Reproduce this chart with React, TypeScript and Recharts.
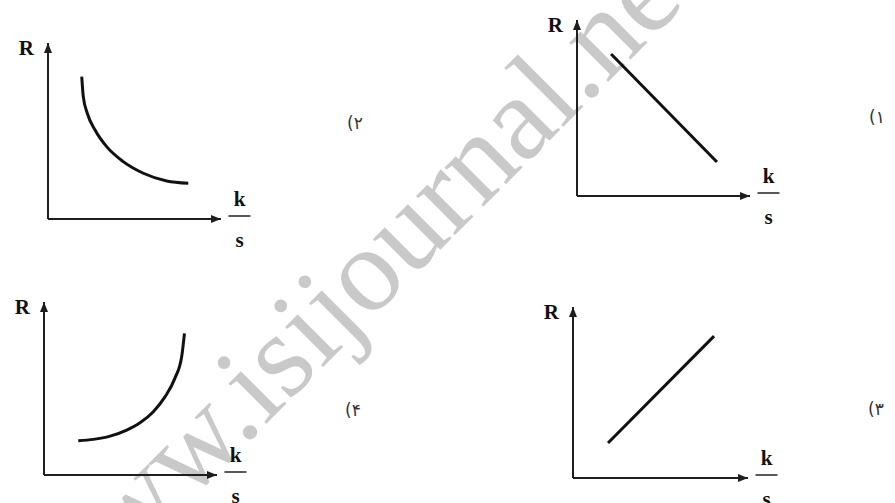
import React from 'react';
import { LineChart, Line, XAxis, YAxis, Customized } from 'recharts';

// ---- data ----
const option1Line = [
  { k: 1.97, R: 8.07 },
  { k: 8.09, R: 1.93 },
];
const option2Curve = [
  { k: 1.95, R: 8.09 },
  { k: 2.04, R: 6.95 },
  { k: 2.27, R: 6.01 },
  { k: 2.72, R: 5.06 },
  { k: 3.39, R: 4.11 },
  { k: 4.35, R: 3.26 },
  { k: 5.51, R: 2.6 },
  { k: 6.86, R: 2.16 },
  { k: 8.11, R: 2.03 },
];
const option3Line = [
  { k: 2.0, R: 2.05 },
  { k: 8.06, R: 8.3 },
];
const option4Curve = [
  { k: 1.98, R: 1.98 },
  { k: 2.85, R: 2.06 },
  { k: 3.82, R: 2.25 },
  { k: 4.78, R: 2.6 },
  { k: 5.55, R: 3.02 },
  { k: 6.32, R: 3.66 },
  { k: 7.0, R: 4.53 },
  { k: 7.57, R: 5.6 },
  { k: 7.96, R: 6.85 },
  { k: 8.12, R: 8.19 },
];
const optionLabels = ['(۱', '(۲', '(۳', '(۴'];
const yAxisLabel = 'R';
const xAxisNumerator = 'k';
const xAxisDenominator = 's';
const watermarkText = 'www.isijournal.net';
const axisDomain: [number, number] = [0, 10];

const AXIS_COLOR = '#1e1e1e';
const LINE_COLOR = '#111';
const SERIF = '"Liberation Serif", "Times New Roman", serif';

type PanelProps = {
  data: { k: number; R: number }[];
  curve: 'linear' | 'monotone';
  ox: number;
  oy: number;
  tx: number;
  ty: number;
};

// outer space around the plot area (axis of size 1 included)
const PAD = { top: 14, right: 42, bottom: 36, left: 42 };
const CHART_MARGIN = { top: 14, right: 42, bottom: 35, left: 41 };

function Panel({ data, curve, ox, oy, tx, ty }: PanelProps) {
  const w = tx - ox + PAD.left + PAD.right;
  const h = oy - ty + PAD.top + PAD.bottom;
  const oxr = PAD.left;
  const oyr = h - PAD.bottom;
  const txr = w - PAD.right;
  const tyr = PAD.top;
  const cx = txr + 18.5;
  const Labels = () => (
    <g>
      <text x={oxr - 14} y={tyr + 12} textAnchor="end" fontFamily={SERIF} fontWeight="bold" fontSize={21} fill="#111">
        {yAxisLabel}
      </text>
      <text x={cx} y={oyr - 13} textAnchor="middle" fontFamily={SERIF} fontWeight="bold" fontSize={21} fill="#111">
        {xAxisNumerator}
      </text>
      <line x1={cx - 11} x2={cx + 11} y1={oyr - 3} y2={oyr - 3} stroke="#222" strokeWidth={1.5} />
      <text x={cx} y={oyr + 28} textAnchor="middle" fontFamily={SERIF} fontWeight="bold" fontSize={21} fill="#111">
        {xAxisDenominator}
      </text>
    </g>
  );
  return (
    <div style={{ position: 'absolute', left: ox - PAD.left, top: ty - PAD.top }}>
      <LineChart width={w} height={h} data={data} margin={CHART_MARGIN}>
        <XAxis
          type="number"
          dataKey="k"
          domain={axisDomain}
          allowDataOverflow
          tick={false}
          tickLine={false}
          height={1}
          axisLine={{ stroke: AXIS_COLOR, strokeWidth: 2, markerEnd: 'url(#arrowHead)' }}
        />
        <YAxis
          type="number"
          dataKey="R"
          domain={axisDomain}
          allowDataOverflow
          tick={false}
          tickLine={false}
          width={1}
          axisLine={{ stroke: AXIS_COLOR, strokeWidth: 2, markerStart: 'url(#arrowHead)' }}
        />
        <Line
          dataKey="R"
          type={curve}
          stroke={LINE_COLOR}
          strokeWidth={3}
          dot={false}
          activeDot={false}
          isAnimationActive={false}
        />
        <Customized component={Labels} />
      </LineChart>
    </div>
  );
}

export default function App() {
  return (
    <div
      style={{
        position: 'absolute',
        left: 0,
        top: 0,
        width: 895,
        height: 503,
        overflow: 'hidden',
        background: '#fff',
      }}
    >
      <svg width={895} height={503} style={{ position: 'absolute', left: 0, top: 0 }}>
        <defs>
          <marker
            id="arrowHead"
            viewBox="0 0 10 8"
            refX={10}
            refY={4}
            markerWidth={10}
            markerHeight={8}
            markerUnits="userSpaceOnUse"
            orient="auto-start-reverse"
          >
            <path d="M0,0 L10,4 L0,8 z" fill={AXIS_COLOR} />
          </marker>
        </defs>
        <text
          x={65}
          y={625}
          transform="rotate(-45 65 625)"
          fontFamily={SERIF}
          fontSize={120}
          fill="#c9c9c9"
        >
          {watermarkText}
        </text>
        <g fontFamily='"DejaVu Sans", sans-serif' fontSize={17} fill="#333">
          <text x={869} y={123}>{optionLabels[0]}</text>
          <text x={347} y={129}>{optionLabels[1]}</text>
          <text x={868} y={415}>{optionLabels[2]}</text>
          <text x={345} y={416}>{optionLabels[3]}</text>
        </g>
      </svg>
      <Panel data={option1Line} curve="linear" ox={577} oy={196} tx={750} ty={20} />
      <Panel data={option2Curve} curve="monotone" ox={48} oy={219} tx={221} ty={43} />
      <Panel data={option3Line} curve="linear" ox={573} oy={478} tx={748} ty={307} />
      <Panel data={option4Curve} curve="monotone" ox={44} oy={475} tx={217} ty={302} />
    </div>
  );
}
